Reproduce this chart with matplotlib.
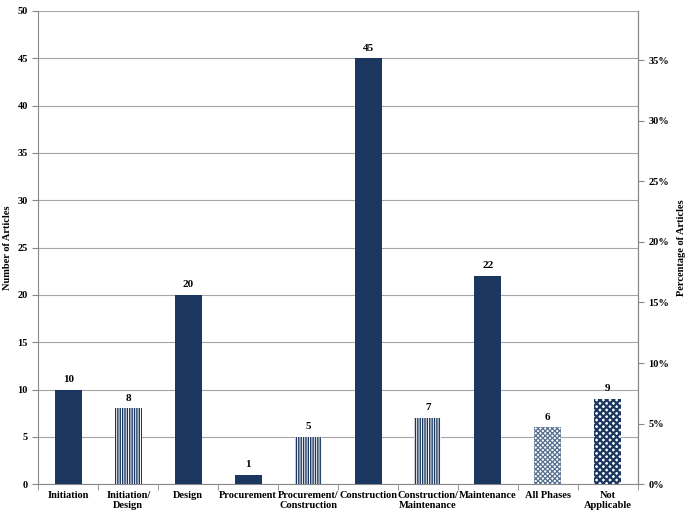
import matplotlib.pyplot as plt
import numpy as np
from matplotlib.ticker import FuncFormatter

plt.rcParams['font.family'] = ['Liberation Serif', 'DejaVu Serif']
plt.rcParams['font.weight'] = 'bold'

categories = ['Initiation', 'Initiation/\nDesign', 'Design', 'Procurement',
              'Procurement/\nConstruction', 'Construction',
              'Construction/\nMaintenance', 'Maintenance', 'All Phases',
              'Not\nApplicable']
counts = [10, 8, 20, 1, 5, 45, 7, 22, 6, 9]
hatches = [None, '|||||||', None, None, '|||||||', None, '|||||||', None,
           'xxxxxxx', 'xxxxx']

navy = '#1b3760'
# hatch colour / line width per style
hatch_style = {'|||||||': (navy, 1.0), 'xxxxxxx': ('#56708f', 0.9),
               'xxxxx': (navy, 1.6)}

fig = plt.figure(figsize=(6.85, 5.19), dpi=100)
ax = fig.add_axes([0.056, 0.067, 0.875, 0.912])

x = np.arange(len(categories))
for i, (c, h) in enumerate(zip(counts, hatches)):
    if h is None:
        ax.bar(x[i], c, width=0.45, color=navy, zorder=3)
    else:
        ec, lw = hatch_style[h]
        with plt.rc_context({'hatch.linewidth': lw}):
            ax.bar(x[i], c, width=0.45, color='white', edgecolor=ec, hatch=h,
                   linewidth=0, zorder=3)
    ax.text(x[i], c + 0.6, str(c), ha='center', va='bottom', fontsize=8,
            fontweight='bold')

ax.set_xlim(-0.5, len(categories) - 0.5)
ax.set_ylim(0, 50)
ax.set_yticks(range(0, 51, 5))
ax.yaxis.grid(True, color='#a6a6a6', linewidth=0.8, zorder=0)
ax.set_axisbelow(True)
ax.set_xticks(x)
ax.set_xticklabels(categories, fontsize=7.5, fontweight='bold', linespacing=1.1)
ax.set_xticks(np.arange(-0.5, len(categories), 1), minor=True)
ax.tick_params(axis='x', which='major', length=0, pad=5)
ax.tick_params(axis='x', which='minor', length=4, color='#888888')
ax.tick_params(axis='y', labelsize=7.5, length=4, color='#888888')
ax.set_ylabel('Number of Articles', fontsize=7.5, fontweight='bold', labelpad=4)
ax.spines['top'].set_visible(False)
for s in ['left', 'bottom', 'right']:
    ax.spines[s].set_color('#888888')

ax2 = ax.twinx()
total = 128
ax2.set_ylim(0, 50 / total)
ax2.set_yticks(np.arange(0, 0.36, 0.05))
ax2.yaxis.set_major_formatter(FuncFormatter(lambda v, p: f'{v*100:.0f}%'))
ax2.tick_params(axis='y', labelsize=7.5, length=4, color='#888888')
ax2.set_ylabel('Percentage of Articles', fontsize=7.5, fontweight='bold',
               labelpad=6)
ax2.spines['top'].set_visible(False)
ax2.spines['right'].set_color('#888888')
ax2.spines['left'].set_visible(False)
ax2.spines['bottom'].set_visible(False)

fig.savefig('out.png', dpi=100)
